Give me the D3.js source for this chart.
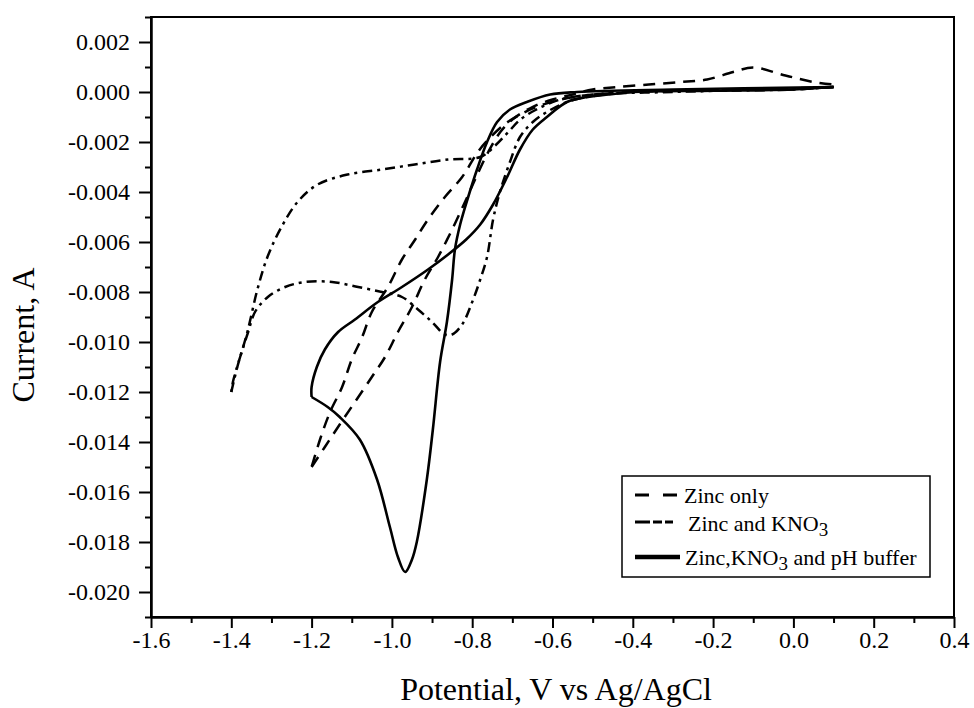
<!DOCTYPE html>
<html>
<head>
<meta charset="utf-8">
<script src="https://cdn.jsdelivr.net/npm/d3@7"></script>
<style>
  body { margin: 0; background: #fff; }
  text { font-family: "Liberation Serif", "Times New Roman", serif; fill: #000; }
</style>
</head>
<body>
<div id="chart"></div>
<script>
// tick values
var xMajor = [-1.6, -1.4, -1.2, -1.0, -0.8, -0.6, -0.4, -0.2, 0.0, 0.2, 0.4];
var xMinor = [-1.5, -1.3, -1.1, -0.9, -0.7, -0.5, -0.3, -0.1, 0.1, 0.3];
var yMajor = [0.002, 0, -0.002, -0.004, -0.006, -0.008, -0.010, -0.012, -0.014, -0.016, -0.018, -0.020];
var yMinor = [0.003, 0.001, -0.001, -0.003, -0.005, -0.007, -0.009, -0.011, -0.013, -0.015, -0.017, -0.019, -0.021];

// series: [potential V, current A]
var zincOnlyFwd = [[0.1, 0.0002], [0.05, 0.00015], [0.0, 0.0001], [-0.1, 0.0001], [-0.2, 0.00008], [-0.3, 0.00005],
  [-0.4, 0.0], [-0.5, -0.0001], [-0.58, -0.0003], [-0.64, -0.0006], [-0.68, -0.0009], [-0.72, -0.0013],
  [-0.76, -0.0019], [-0.786, -0.0024], [-0.825, -0.0034], [-0.868, -0.0042], [-0.91, -0.0051], [-0.942, -0.0059],
  [-0.975, -0.0067], [-1.01, -0.0078], [-1.05, -0.0088], [-1.074, -0.0098], [-1.1, -0.0107], [-1.124, -0.0118],
  [-1.154, -0.0128], [-1.179, -0.0139], [-1.2, -0.015]];
var zincOnlyRev = [[-1.2, -0.015], [-1.167, -0.0142], [-1.13, -0.0133], [-1.092, -0.0124], [-1.05, -0.0114],
  [-1.017, -0.0106], [-0.985, -0.0096], [-0.95, -0.0086], [-0.918, -0.0075], [-0.885, -0.0066], [-0.85, -0.0055],
  [-0.818, -0.0044], [-0.79, -0.0034], [-0.76, -0.0024], [-0.73, -0.0016], [-0.7, -0.0011], [-0.65, -0.0006],
  [-0.6, -0.0003], [-0.55, -0.0001], [-0.5, 0.0001], [-0.44, 0.0002], [-0.36, 0.0003], [-0.28, 0.0004],
  [-0.215, 0.0005], [-0.15, 0.0008], [-0.1, 0.00098], [-0.02, 0.00066], [0.05, 0.0004], [0.1, 0.0003]];

var kno3Fwd = [[0.1, 0.0002], [0.0, 0.0001], [-0.2, 0.00005], [-0.4, 0.0], [-0.514, -0.0002], [-0.564, -0.0004],
  [-0.614, -0.0008], [-0.649, -0.0012], [-0.681, -0.0018], [-0.706, -0.0028], [-0.731, -0.004], [-0.748, -0.0051],
  [-0.763, -0.0066], [-0.78, -0.0075], [-0.8, -0.0084], [-0.825, -0.0093], [-0.85, -0.0097], [-0.868, -0.0097],
  [-0.9, -0.0092], [-0.935, -0.0087], [-0.975, -0.0082], [-1.025, -0.008], [-1.084, -0.0078], [-1.149, -0.0076],
  [-1.216, -0.0076], [-1.266, -0.0078], [-1.309, -0.0082], [-1.341, -0.0088], [-1.358, -0.0096], [-1.378, -0.0106],
  [-1.396, -0.0116], [-1.4, -0.012]];
var kno3Rev = [[-1.4, -0.012], [-1.385, -0.011], [-1.36, -0.0096], [-1.335, -0.0079], [-1.31, -0.0066],
  [-1.275, -0.0054], [-1.235, -0.0044], [-1.185, -0.0037], [-1.11, -0.0033], [-1.025, -0.0031], [-0.943, -0.0029],
  [-0.86, -0.0027], [-0.78, -0.0026], [-0.74, -0.0021], [-0.71, -0.0016], [-0.68, -0.0011], [-0.64, -0.0007],
  [-0.58, -0.0003], [-0.5, -0.0001], [-0.3, 0.0], [-0.1, 0.0001], [0.1, 0.0002]];

var bufferFwd = [[0.1, 0.0002], [0.0, 0.0001], [-0.2, 0.00005], [-0.4, 0.0], [-0.46, -0.0001], [-0.514, -0.0002],
  [-0.564, -0.0004], [-0.614, -0.001], [-0.649, -0.0015], [-0.681, -0.0023], [-0.713, -0.0034], [-0.748, -0.0045],
  [-0.78, -0.0053], [-0.815, -0.0059], [-0.86, -0.0065], [-0.91, -0.0071], [-0.975, -0.0078], [-1.035, -0.0084],
  [-1.092, -0.0091], [-1.134, -0.0096], [-1.167, -0.0103], [-1.187, -0.011], [-1.2, -0.0118], [-1.2, -0.0122]];
var bufferRev = [[-1.2, -0.0122], [-1.16, -0.0126], [-1.13, -0.013], [-1.08, -0.0139], [-1.037, -0.0155],
  [-1.005, -0.0174], [-0.985, -0.0186], [-0.967, -0.0192], [-0.95, -0.0187], [-0.938, -0.018], [-0.913, -0.0155],
  [-0.898, -0.0135], [-0.88, -0.0108], [-0.863, -0.0092], [-0.85, -0.0075], [-0.843, -0.0063], [-0.83, -0.0053],
  [-0.81, -0.0042], [-0.788, -0.0031], [-0.763, -0.002], [-0.738, -0.0012], [-0.706, -0.0007], [-0.664, -0.0004],
  [-0.606, -0.0001], [-0.539, 0.0], [-0.3, 0.0001], [0.1, 0.0002]];

var legendLabels = ["Zinc only", "Zinc and KNO", "Zinc,KNO"];

var width = 974, height = 708;
var plot = {left: 151, right: 954, top: 17, bottom: 617};
var serif = "Liberation Serif, Times New Roman, serif";

var svg = d3.select("#chart")
  .append("svg")
    .attr("width", width)
    .attr("height", height)
    .attr("font-family", serif);

var xScale = d3.scaleLinear().domain([-1.6, 0.4]).range([plot.left, plot.right]);
var yScale = d3.scaleLinear().domain([-0.021, 0.003]).range([plot.bottom, plot.top]);

// frame
svg.append("rect")
    .attr("x", plot.left).attr("y", plot.top)
    .attr("width", plot.right - plot.left).attr("height", plot.bottom - plot.top)
    .attr("fill", "none").attr("stroke", "#000").attr("stroke-width", 2);

// axes
var xAxis = d3.axisBottom(xScale).tickValues(xMajor).tickSize(11).tickSizeOuter(0).tickPadding(3)
    .tickFormat(d => d.toFixed(1));
var xAxisMinor = d3.axisBottom(xScale).tickValues(xMinor).tickSize(6).tickSizeOuter(0).tickFormat("");
var yAxis = d3.axisLeft(yScale).tickValues(yMajor).tickSize(12).tickSizeOuter(0).tickPadding(9)
    .tickFormat(d => d.toFixed(3));
var yAxisMinor = d3.axisLeft(yScale).tickValues(yMinor).tickSize(6).tickSizeOuter(0).tickFormat("");

[[xAxis, "x"], [xAxisMinor, "x"], [yAxis, "y"], [yAxisMinor, "y"]].forEach(function(a) {
  var g = svg.append("g")
      .attr("transform", a[1] === "x" ? "translate(0," + plot.bottom + ")" : "translate(" + plot.left + ",0)")
      .call(a[0])
      .attr("font-family", serif)
      .attr("font-size", 24);
  g.selectAll("line").attr("stroke", "#000").attr("stroke-width", 2);
  g.select(".domain").attr("stroke", "#000").attr("stroke-width", 2);
  g.selectAll("text").attr("fill", "#000");
});

// axis titles
svg.append("text")
    .attr("text-anchor", "middle")
    .attr("transform", "translate(34,335) rotate(-90)")
    .attr("font-size", 32)
    .text("Current, A");

svg.append("text")
    .attr("text-anchor", "middle")
    .attr("x", 556).attr("y", 700)
    .attr("font-size", 32)
    .text("Potential, V vs Ag/AgCl");

// curves
var line = d3.line()
    .x(d => xScale(d[0]))
    .y(d => yScale(d[1]))
    .curve(d3.curveCatmullRom.alpha(0.5));

var styles = [
  {data: [zincOnlyFwd, zincOnlyRev], dash: "12,8", w: 2.5},
  {data: [kno3Fwd, kno3Rev], dash: "10,5,3,5", w: 2.5},
  {data: [bufferFwd, bufferRev], dash: null, w: 2.6}
];

styles.forEach(function(s) {
  s.data.forEach(function(seg) {
    svg.append("path")
        .datum(seg)
        .attr("d", line)
        .attr("fill", "none")
        .attr("stroke", "#000")
        .attr("stroke-width", s.w)
        .attr("stroke-linejoin", "round")
        .attr("stroke-dasharray", s.dash);
  });
});

// legend
var legend = svg.append("g");
legend.append("rect")
    .attr("x", 622).attr("y", 476).attr("width", 308).attr("height", 101)
    .attr("fill", "#fff").attr("stroke", "#000").attr("stroke-width", 1.5);

var legendRows = [
  {y: 495, dash: "14,14", w: 3, tx: 684, ty: 503},
  {y: 522, dash: "15,3,9,3,8", w: 3, tx: 688, ty: 531},
  {y: 557, dash: null, w: 4.5, tx: 685, ty: 565}
];

legendRows.forEach(function(r, i) {
  legend.append("line")
      .attr("x1", 635).attr("x2", 680).attr("y1", r.y).attr("y2", r.y)
      .attr("stroke", "#000").attr("stroke-width", r.w)
      .attr("stroke-dasharray", r.dash);
  var t = legend.append("text")
      .attr("x", r.tx).attr("y", r.ty)
      .attr("font-size", 22)
      .text(legendLabels[i]);
  if (i > 0) {
    t.append("tspan").attr("font-size", 19).attr("dy", 5).text("3");
    if (i === 2) t.append("tspan").attr("dy", -5).text(" and pH buffer");
  }
});
</script>
</body>
</html>
